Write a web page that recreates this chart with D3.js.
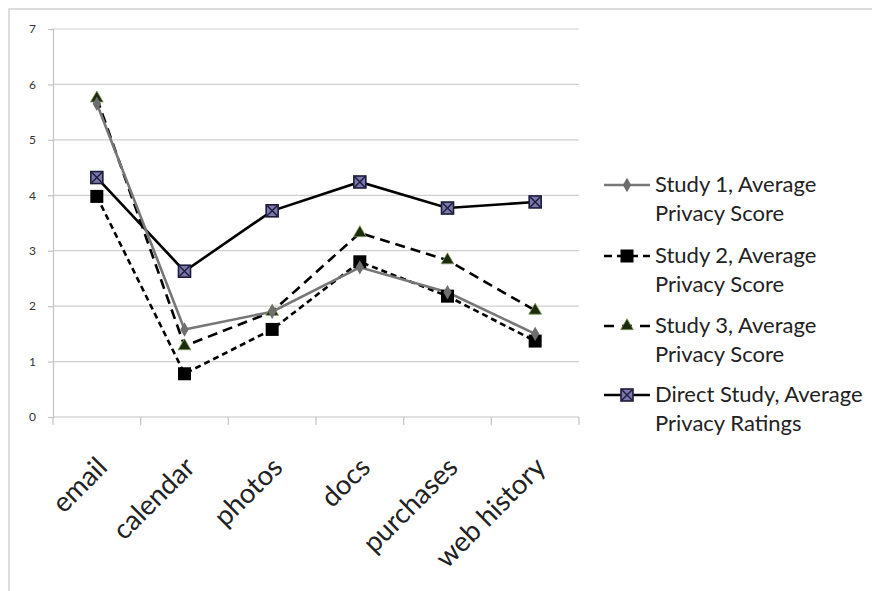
<!DOCTYPE html>
<html>
<head>
<meta charset="utf-8">
<script src="https://cdn.jsdelivr.net/npm/d3@7"></script>
<style>
  html, body { margin: 0; padding: 0; background: #fff; }
  svg { display: block; }
  text { font-family: Lato, "Open Sans", sans-serif; }
</style>
</head>
<body>
<svg id="chart" width="872" height="591"></svg>
<script>
// Categories of personal data
const categories = ["email", "calendar", "photos", "docs", "purchases", "web history"];

// Average privacy scores per study
const study1 = [5.65, 1.58, 1.9, 2.7, 2.25, 1.5];
const study2 = [3.98, 0.78, 1.58, 2.8, 2.18, 1.37];
const study3 = [5.75, 1.28, 1.9, 3.32, 2.83, 1.92];
const direct = [4.32, 2.63, 3.72, 4.24, 3.77, 3.88];

const yTicks = [0, 1, 2, 3, 4, 5, 6, 7];

const seriesNames = [
  ["Study 1, Average", "Privacy Score"],
  ["Study 2, Average", "Privacy Score"],
  ["Study 3, Average", "Privacy Score"],
  ["Direct Study, Average", "Privacy Ratings"]
];

const series = [
  { name: seriesNames[0], values: study1, stroke: "#777777", dash: null, marker: "diamond" },
  { name: seriesNames[1], values: study2, stroke: "#000000", dash: "6,4", marker: "square" },
  { name: seriesNames[2], values: study3, stroke: "#000000", dash: "10,6", marker: "triangle" },
  { name: seriesNames[3], values: direct, stroke: "#000000", dash: null, marker: "xsquare" }
];

const svg = d3.select("#chart");

// Outer frame (top and left edges visible)
svg.append("path")
  .attr("d", "M9,591 L9,9 L872,9")
  .attr("fill", "none")
  .attr("stroke", "#d2d2d2")
  .attr("stroke-width", 1.5);

const x = d3.scaleBand().domain(categories).range([53, 579]).padding(0);
const y = d3.scaleLinear().domain([0, 7]).range([417, 29]);
const cx = d => x(d) + x.bandwidth() / 2;

// Horizontal gridlines
svg.append("g")
  .selectAll("line")
  .data(yTicks.filter(t => t > 0))
  .join("line")
  .attr("x1", 53).attr("x2", 579)
  .attr("y1", d => y(d)).attr("y2", d => y(d))
  .attr("stroke", "#d0d0d0")
  .attr("stroke-width", 1.2);

// Y axis
const yAxis = svg.append("g")
  .attr("transform", "translate(53,0)")
  .call(d3.axisLeft(y).tickValues(yTicks).tickSize(5).tickPadding(12).tickFormat(d3.format("d")));
yAxis.select(".domain").attr("stroke", "#c4c4c4").attr("stroke-width", 1.2);
yAxis.selectAll(".tick line").attr("stroke", "#c4c4c4").attr("stroke-width", 1.2);
yAxis.selectAll(".tick text")
  .attr("fill", "#333")
  .style("font-size", "12px")
  .style("font-family", "Lato, sans-serif");

// X axis with category boundary ticks
const xAxisG = svg.append("g").attr("transform", "translate(0,417)");
xAxisG.append("line")
  .attr("x1", 53).attr("x2", 579)
  .attr("stroke", "#c4c4c4").attr("stroke-width", 1.2);
const bounds = categories.map(c => x(c)).concat([x(categories[categories.length - 1]) + x.bandwidth()]);
xAxisG.selectAll("line.tk")
  .data(bounds)
  .join("line")
  .attr("class", "tk")
  .attr("x1", d => d).attr("x2", d => d)
  .attr("y1", 0).attr("y2", 8)
  .attr("stroke", "#c4c4c4").attr("stroke-width", 1.2);

// Rotated category labels
svg.append("g")
  .selectAll("text")
  .data(categories)
  .join("text")
  .attr("transform", d => `translate(${cx(d) + 12},469) rotate(-45)`)
  .attr("text-anchor", "end")
  .attr("fill", "#222")
  .style("font-size", "27.5px")
  .text(d => d);

// Marker drawing
function drawMarker(g, type, px, py) {
  if (type === "diamond") {
    g.append("path")
      .attr("d", d3.symbol(d3.symbolDiamond, 60)())
      .attr("transform", `translate(${px},${py})`)
      .attr("fill", "#6e6e6e");
  } else if (type === "square") {
    g.append("rect")
      .attr("x", px - 6.5).attr("y", py - 6.5)
      .attr("width", 13).attr("height", 13)
      .attr("fill", "#000");
  } else if (type === "triangle") {
    g.append("path")
      .attr("d", d3.symbol(d3.symbolTriangle, 70)())
      .attr("transform", `translate(${px},${py})`)
      .attr("fill", "#1d2a0c")
      .attr("stroke", "#7d9a5a")
      .attr("stroke-width", 0.8);
  } else if (type === "xsquare") {
    g.append("rect")
      .attr("x", px - 6).attr("y", py - 6)
      .attr("width", 12).attr("height", 12)
      .attr("fill", "#7c78ae")
      .attr("stroke", "#1c1c3a")
      .attr("stroke-width", 1.6);
    g.append("path")
      .attr("d", `M${px - 5},${py - 5}L${px + 5},${py + 5}M${px + 5},${py - 5}L${px - 5},${py + 5}`)
      .attr("stroke", "#1c1c3a")
      .attr("stroke-width", 1.4);
  }
}

const line = d3.line()
  .x((d, i) => cx(categories[i]))
  .y(d => y(d));

// Lines and markers (direct first, study 1 last so the gray line stays visible)
const order = [3, 2, 1, 0];
order.forEach(k => {
  const s = series[k];
  svg.append("path")
    .datum(s.values)
    .attr("d", line)
    .attr("fill", "none")
    .attr("stroke", s.stroke)
    .attr("stroke-width", 2.6)
    .attr("stroke-dasharray", s.dash);
});
order.forEach(k => {
  const s = series[k];
  const g = svg.append("g");
  s.values.forEach((v, i) => drawMarker(g, s.marker, cx(categories[i]), y(v)));
});

// Legend
const legendY = [185, 256, 326, 395];
series.forEach((s, k) => {
  const g = svg.append("g");
  const ly = legendY[k];
  g.append("line")
    .attr("x1", 604).attr("x2", 650)
    .attr("y1", ly).attr("y2", ly)
    .attr("stroke", s.stroke)
    .attr("stroke-width", 2.6)
    .attr("stroke-dasharray", s.dash ? (k === 1 ? "8,5" : "10,8") : null);
  drawMarker(g, s.marker, 627, ly);
  const t = g.append("text")
    .attr("x", 655).attr("y", ly + 7)
    .attr("fill", "#222")
    .style("font-size", "22px");
  t.append("tspan").attr("x", 655).text(s.name[0]);
  t.append("tspan").attr("x", 655).attr("dy", 29).text(s.name[1]);
});
</script>
</body>
</html>
